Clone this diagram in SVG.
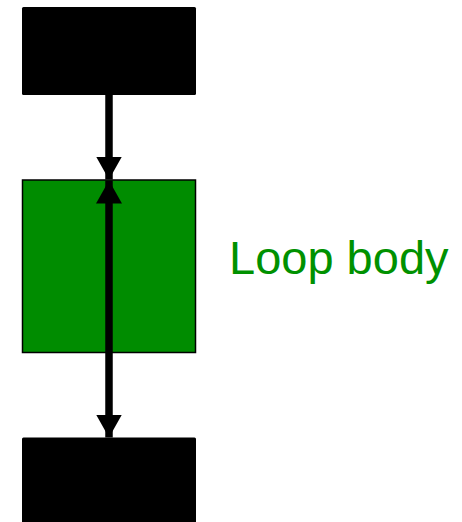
<svg xmlns="http://www.w3.org/2000/svg" width="462" height="522" viewBox="0 0 462 522">
  <style>
    .block { fill: #000000; }
    .body { fill: #008c00; stroke: #000000; stroke-width: 1.5; }
    .edge { stroke: #000000; stroke-width: 7.5; fill: none; }
    .label { font-family: "Liberation Sans", Arial, sans-serif; font-size: 47px; fill: #009100; }
  </style>
  <defs>
    <marker id="head" viewBox="0 0 23 26" refX="23" refY="13" markerWidth="23" markerHeight="26" markerUnits="userSpaceOnUse" orient="auto-start-reverse">
      <path d="M0,0 L23,13 L0,26 Z" fill="#000000"/>
    </marker>
  </defs>

  <g id="entry">
    <rect class="block" x="22" y="7" width="174" height="88" rx="1.5"/>
  </g>

  <g id="loop-body">
    <rect class="body" x="22.5" y="180" width="173" height="172.5"/>
    <text class="label" x="229" y="274">Loop body</text>
  </g>

  <g id="exit">
    <rect class="block" x="22" y="437.5" width="174" height="90" rx="1.5"/>
  </g>

  <g id="connectors">
    <line class="edge" x1="109" y1="95" x2="109" y2="179.5" marker-end="url(#head)"/>
    <line class="edge" x1="109" y1="180.5" x2="109" y2="437.5" marker-start="url(#head)" marker-end="url(#head)"/>
  </g>
</svg>
